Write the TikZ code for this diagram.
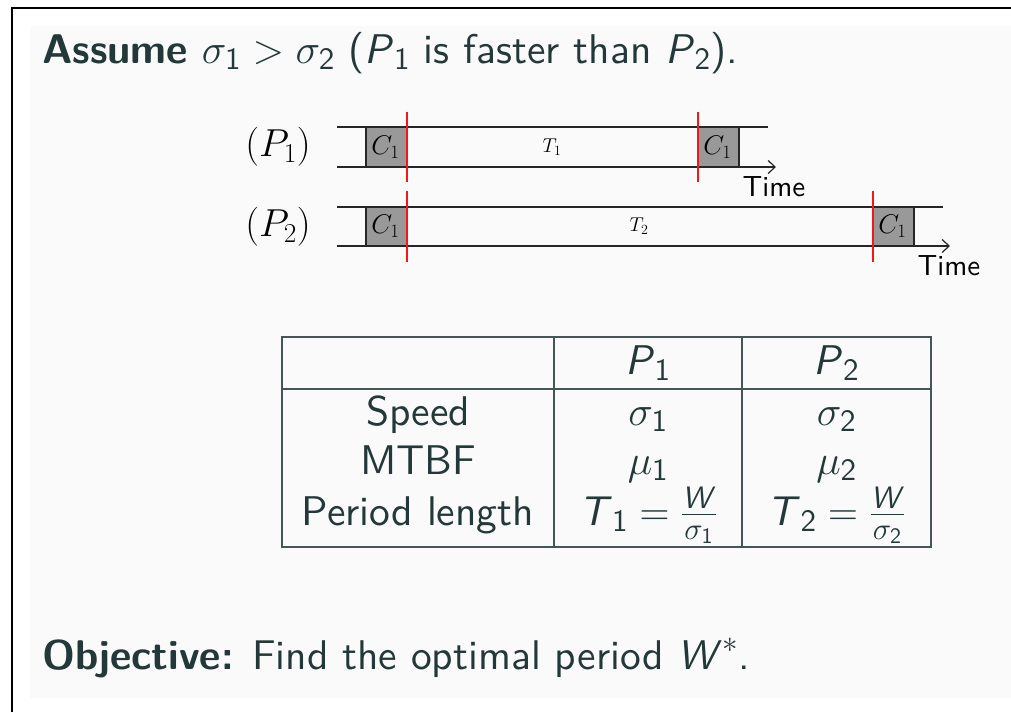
\RequirePackage{fix-cm}
\documentclass[tikz,border=0pt]{standalone}
\usepackage{amsmath}
\usepackage{fontspec}
\setsansfont{lmsans10-regular.otf}[BoldFont=lmsans10-bold.otf, ItalicFont=lmsans10-oblique.otf, BoldItalicFont=lmsans10-boldoblique.otf]
\DeclareMathSizes{41.5}{41.5}{31}{22}
\usetikzlibrary{arrows.meta}
\definecolor{txt}{HTML}{233838}
\definecolor{panel}{HTML}{FAFAFA}
\definecolor{rulec}{HTML}{465656}
\definecolor{boxg}{HTML}{999999}
\definecolor{mred}{HTML}{F01818}
\newcommand{\sfi}[1]{\textsf{\textit{#1}}}
\newcommand{\sfn}[1]{\textsf{#1}}
\begin{document}
\begin{tikzpicture}[x=1pt,y=-1pt,
  big/.style={font=\fontsize{41.5}{48}\selectfont\sffamily, text=txt, inner sep=0},
  cell/.style={font=\fontsize{41.5}{48}\selectfont\sffamily, text=txt, inner sep=0, anchor=base},
  lane/.style={line width=1.3pt, draw=black!85},
  ckpt/.style={lane, fill=boxg},
  fail/.style={line width=2.6pt, draw=mred},
  lbl/.style={font=\fontsize{39}{46}\selectfont, inner sep=0},
  cl/.style={font=\fontsize{27}{32}\selectfont, inner sep=0},
  tl/.style={font=\fontsize{20}{24}\selectfont, inner sep=0},
  tm/.style={font=\fontsize{29}{34}\selectfont\sffamily, inner sep=0, anchor=base},
  trule/.style={line width=1.3pt, draw=rulec},
  axis/.style={lane, -{Straight Barb[length=7pt,width=13pt,line width=1.2pt]}}
]
\useasboundingbox (0,0) rectangle (1011,712);
\fill[white] (0,0) rectangle (1011,712);
\fill[panel] (30,26) rectangle (1011,698);
\draw[black, line width=2pt] (12,712) -- (12,8) -- (1011,8);

% title
\node[big, anchor=base west] (title) at (42,63) {\textbf{Assume} $\sigma_{\sfn{1}} > \sigma_{\sfn{2}}$ ($\sfi{P}_{\sfn{1}}$ is faster than $\sfi{P}_{\sfn{2}}$).};

% timeline P1
\coordinate (a1s) at (337,127); \coordinate (a1e) at (768,127);
\coordinate (b1s) at (337,167); \coordinate (b1e) at (776,167);
\draw[lane] (a1s) -- (a1e);
\draw[axis] (b1s) -- (b1e);
\draw[ckpt] (366,127) rectangle (407,167);
\draw[ckpt] (698,127) rectangle (739,167);
\node[cl] (c11) at (385.5,147) {$C_1$};
\node[cl] (c12) at (717.5,147) {$C_1$};
\node[tl] (t1) at (552,147) {$T_1$};
\draw[fail] (407,112) -- (407,182);
\draw[fail] (698,112) -- (698,182);
\node[lbl] (p1) at (278,147) {$(P_1)$};
\node[tm] (time1) at (774,196) {Time};

% timeline P2
\coordinate (a2s) at (337,207); \coordinate (a2e) at (943,207);
\coordinate (b2s) at (337,246); \coordinate (b2e) at (950,246);
\draw[lane] (a2s) -- (a2e);
\draw[axis] (b2s) -- (b2e);
\draw[ckpt] (366,207) rectangle (407,246);
\draw[ckpt] (873,207) rectangle (914,246);
\node[cl] (c21) at (385.5,226.5) {$C_1$};
\node[cl] (c22) at (892.5,226.5) {$C_1$};
\node[tl] (t2) at (639,226.5) {$T_2$};
\draw[fail] (407,191) -- (407,262);
\draw[fail] (873,191) -- (873,262);
\node[lbl] (p2) at (278,227) {$(P_2)$};
\node[tm] (time2) at (949,275) {Time};

% table
\draw[trule] (282,337) rectangle (931,547);
\draw[trule] (554,337) -- (554,547);
\draw[trule] (742,337) -- (742,547);
\draw[trule] (282,389) -- (931,389);
\node[cell] (hp1) at (648,374) {$\sfi{P}_{\sfn{1}}$};
\node[cell] (hp2) at (836.5,374) {$\sfi{P}_{\sfn{2}}$};
\node[cell] (r1) at (418,425) {Speed};
\node[cell] (r2) at (418,474) {MTBF};
\node[cell] (r3) at (418,525) {Period length};
\node[cell] (s1) at (648,425) {$\sigma_{\sfn{1}}$};
\node[cell] (s2) at (836.5,425) {$\sigma_{\sfn{2}}$};
\node[cell] (m1) at (648,474) {$\mu_{\sfn{1}}$};
\node[cell] (m2) at (836.5,474) {$\mu_{\sfn{2}}$};
\node[cell] (f1) at (648,525) {$\sfi{T}_{\sfn{1}} = \frac{\sfi{W}}{\sigma_{\sfn{1}}}$};
\node[cell] (f2) at (836.5,525) {$\sfi{T}_{\sfn{2}} = \frac{\sfi{W}}{\sigma_{\sfn{2}}}$};

% objective
\node[big, anchor=base west] (obj) at (42,669) {\textbf{Objective:} Find the optimal period $\sfi{W}^*$.};
\end{tikzpicture}
\end{document}
